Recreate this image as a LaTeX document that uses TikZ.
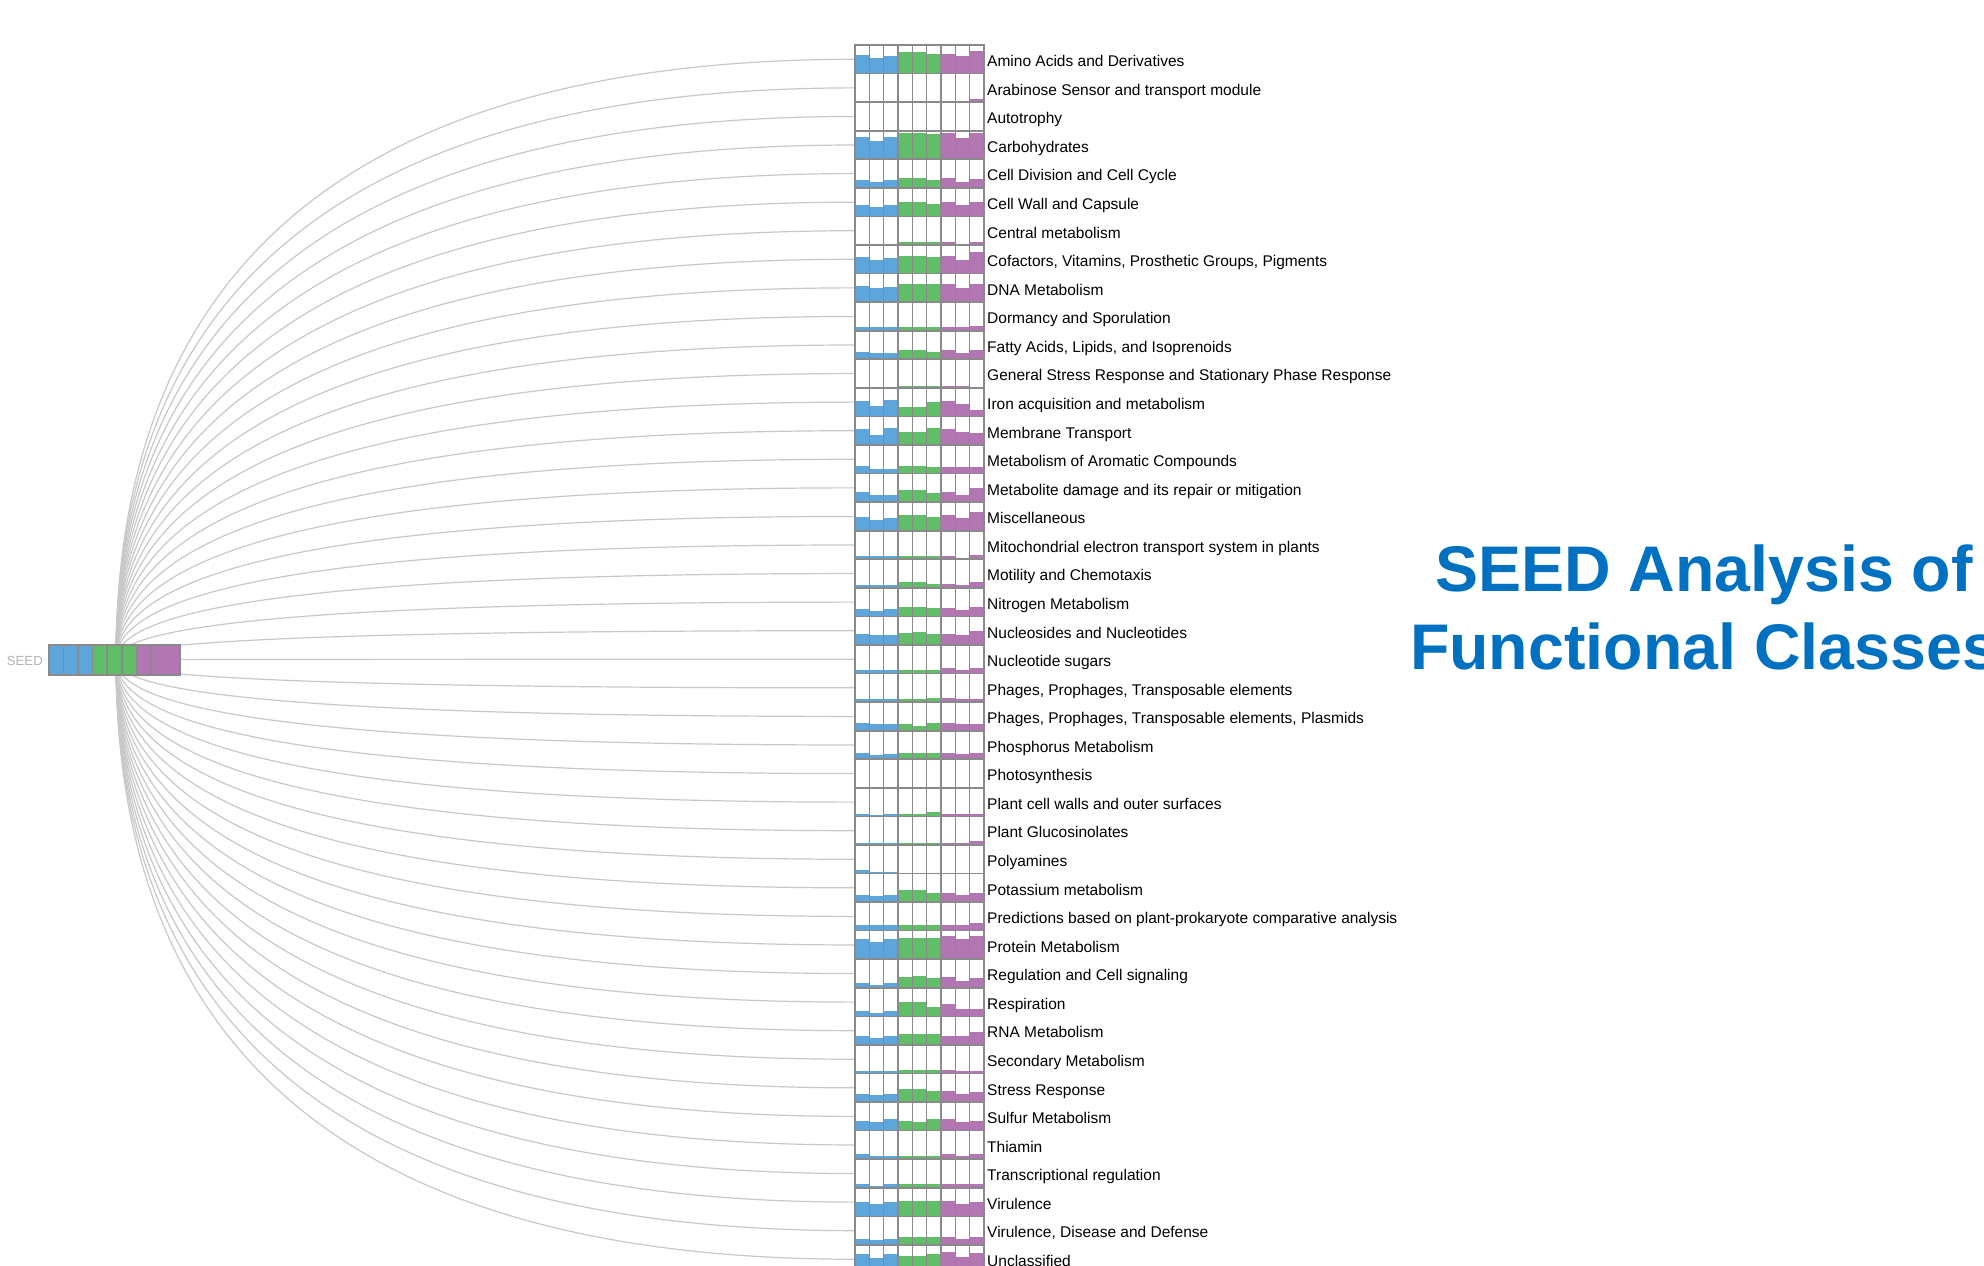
\documentclass[tikz,border=0pt]{standalone}
\usepackage{fontspec}
\setmainfont{Liberation Sans}
\definecolor{cblue}{HTML}{5DA5DA}
\definecolor{cgreen}{HTML}{60BD68}
\definecolor{cpurple}{HTML}{B276B2}
\definecolor{gridgray}{HTML}{8A8A8A}
\definecolor{linkgray}{HTML}{C8C8C8}
\definecolor{titleblue}{HTML}{0070C0}
\definecolor{seedgray}{HTML}{B4B4B4}
\begin{document}
\begin{tikzpicture}[x=1pt,y=-1pt,
  link/.style={draw=linkgray,line width=1.2pt},
  cellbox/.style={draw=gridgray,line width=1.6pt},
  lbl/.style={anchor=base west,inner sep=0pt,font=\fontsize{15.5}{18}\selectfont,text=black},
  seedlbl/.style={anchor=base east,inner sep=0pt,font=\fontsize{13.2}{16}\selectfont,text=seedgray},
  titlestyle/.style={align=center,inner sep=0pt,font=\fontsize{64.5}{78}\selectfont\bfseries,text=titleblue}]
\path[use as bounding box] (0,0) rectangle (1984,1266);
\clip (0,0) rectangle (1984,1266);
\fill[white] (0,0) rectangle (1984,1266);
\coordinate (root) at (116,660);
% rows
\foreach \i/\name/\vals in {
1/{Amino Acids and Derivatives}/{0.64,0.54,0.60,0.74,0.75,0.69,0.70,0.60,0.79},
2/{Arabinose Sensor and transport module}/{0.05,0.05,0.05,0.05,0.05,0.05,0.05,0.04,0.10},
3/{Autotrophy}/{0,0,0,0,0,0,0,0,0},
4/{Carbohydrates}/{0.79,0.64,0.79,0.93,0.93,0.89,0.93,0.76,0.93},
5/{Cell Division and Cell Cycle}/{0.28,0.22,0.28,0.34,0.34,0.28,0.34,0.22,0.31},
6/{Cell Wall and Capsule}/{0.40,0.33,0.40,0.49,0.49,0.44,0.49,0.40,0.49},
7/{Central metabolism}/{0.05,0.05,0.05,0.09,0.09,0.09,0.09,0.05,0.09},
8/{Cofactors, Vitamins, Prosthetic Groups, Pigments}/{0.57,0.48,0.54,0.60,0.62,0.57,0.63,0.48,0.77},
9/{DNA Metabolism}/{0.58,0.48,0.53,0.62,0.62,0.62,0.63,0.48,0.63},
10/{Dormancy and Sporulation}/{0.12,0.12,0.12,0.12,0.12,0.12,0.12,0.12,0.17},
11/{Fatty Acids, Lipids, and Isoprenoids}/{0.27,0.21,0.21,0.33,0.33,0.27,0.33,0.21,0.33},
12/{General Stress Response and Stationary Phase Response}/{0,0,0,0.05,0.05,0.05,0.05,0.05,0.03},
13/{Iron acquisition and metabolism}/{0.53,0.37,0.56,0.32,0.32,0.51,0.53,0.42,0.21},
14/{Membrane Transport}/{0.55,0.35,0.61,0.46,0.46,0.61,0.55,0.46,0.41},
15/{Metabolism of Aromatic Compounds}/{0.25,0.15,0.15,0.28,0.28,0.22,0.22,0.22,0.22},
16/{Metabolite damage and its repair or mitigation}/{0.35,0.26,0.26,0.41,0.41,0.33,0.35,0.26,0.51},
17/{Miscellaneous}/{0.49,0.36,0.43,0.56,0.56,0.49,0.56,0.43,0.67},
18/{Mitochondrial electron transport system in plants}/{0.10,0.10,0.10,0.10,0.10,0.10,0.10,0.06,0.16},
19/{Motility and Chemotaxis}/{0.10,0.10,0.10,0.21,0.21,0.15,0.15,0.10,0.21},
20/{Nitrogen Metabolism}/{0.25,0.19,0.25,0.34,0.34,0.28,0.28,0.22,0.34},
21/{Nucleosides and Nucleotides}/{0.38,0.34,0.34,0.43,0.44,0.38,0.38,0.34,0.48},
22/{Nucleotide sugars}/{0.13,0.13,0.13,0.13,0.13,0.13,0.19,0.13,0.19},
23/{Phages, Prophages, Transposable elements}/{0.10,0.10,0.10,0.10,0.10,0.14,0.13,0.10,0.10},
24/{Phages, Prophages, Transposable elements, Plasmids}/{0.28,0.22,0.22,0.22,0.16,0.28,0.28,0.22,0.22},
25/{Phosphorus Metabolism}/{0.23,0.14,0.19,0.23,0.23,0.23,0.23,0.19,0.23},
26/{Photosynthesis}/{0,0,0,0,0,0,0,0,0},
27/{Plant cell walls and outer surfaces}/{0.09,0.05,0.09,0.07,0.07,0.14,0.09,0.09,0.09},
28/{Plant Glucosinolates}/{0.08,0.08,0.08,0.08,0.08,0.08,0.08,0.08,0.14},
29/{Polyamines}/{0.12,0.06,0.06,0.02,0.02,0.02,0.02,0.02,0.02},
30/{Potassium metabolism}/{0.26,0.21,0.26,0.41,0.41,0.33,0.33,0.26,0.33},
31/{Predictions based on plant-prokaryote comparative analysis}/{0.20,0.20,0.20,0.20,0.20,0.20,0.20,0.20,0.26},
32/{Protein Metabolism}/{0.72,0.60,0.70,0.75,0.75,0.75,0.80,0.70,0.82},
33/{Regulation and Cell signaling}/{0.16,0.10,0.16,0.38,0.43,0.33,0.38,0.25,0.33},
34/{Respiration}/{0.20,0.13,0.20,0.49,0.49,0.33,0.43,0.25,0.25},
35/{RNA Metabolism}/{0.32,0.24,0.32,0.37,0.37,0.37,0.32,0.32,0.44},
36/{Secondary Metabolism}/{0.08,0.08,0.08,0.14,0.14,0.14,0.14,0.08,0.08},
37/{Stress Response}/{0.30,0.25,0.30,0.46,0.46,0.39,0.40,0.30,0.35},
38/{Sulfur Metabolism}/{0.35,0.30,0.40,0.35,0.30,0.40,0.40,0.30,0.35},
39/{Thiamin}/{0.17,0.13,0.13,0.13,0.13,0.13,0.19,0.13,0.19},
40/{Transcriptional regulation}/{0.13,0.08,0.13,0.13,0.13,0.13,0.13,0.13,0.13},
41/{Virulence}/{0.49,0.43,0.49,0.55,0.55,0.55,0.55,0.43,0.49},
42/{Virulence, Disease and Defense}/{0.22,0.17,0.22,0.27,0.27,0.27,0.27,0.22,0.27},
43/{Unclassified}/{0.67,0.53,0.67,0.63,0.63,0.69,0.76,0.58,0.72}}{
  \pgfmathsetmacro\cy{59.3+(\i-1)*28.57}
  \pgfmathsetmacro\ctop{\cy-14.285}
  \pgfmathsetmacro\cbot{\cy+14.285}
  \pgfmathsetmacro\ca{660+2/3*(\cy-660)}
  \coordinate (r\i) at (855,\cy);
  \draw[link] (root) .. controls (116,\ca) and (362.3,\cy) .. (r\i);
  \foreach \v [count=\j] in \vals {
    \edef\cc{\ifcase\j\or cblue\or cblue\or cblue\or cgreen\or cgreen\or cgreen\or cpurple\or cpurple\or cpurple\fi}
    \pgfmathsetmacro\xa{855+(\j-1)*14.333}
    \pgfmathsetmacro\xb{\xa+14.333}
    \pgfmathsetmacro\btop{\cbot-\v*28.57}
    \ifdim\v pt>0pt
      \fill[\cc] (\xa,\btop) rectangle (\xb,\cbot);
    \fi
  }
  \foreach \j in {1,...,9} {
    \pgfmathsetmacro\xa{855+(\j-1)*14.333}
    \pgfmathsetmacro\xb{\xa+14.333}
    \draw[cellbox] (\xa,\ctop) rectangle (\xb,\cbot);
  }
  \node[lbl] (l\i) at (987,\cy+7.3) {\name};
}
% root box
\foreach \j/\cc in {1/cblue,2/cblue,3/cblue,4/cgreen,5/cgreen,6/cgreen,7/cpurple,8/cpurple,9/cpurple}{
  \pgfmathsetmacro\xa{49+(\j-1)*14.555}
  \pgfmathsetmacro\xb{\xa+14.555}
  \fill[\cc] (\xa,645) rectangle (\xb,675);
}
\foreach \j in {1,...,9}{
  \pgfmathsetmacro\xa{49+(\j-1)*14.555}
  \pgfmathsetmacro\xb{\xa+14.555}
  \draw[cellbox] (\xa,645) rectangle (\xb,675);
}
\node[draw=gridgray,line width=1.6pt,minimum width=131pt,minimum height=30pt,inner sep=0pt] (seedbox) at (114.5,660) {};
\node[seedlbl] (seedlabel) at (43,665.8) {SEED};
% title
\node[titlestyle,anchor=base] (title1) at (1704,591) {SEED Analysis of};
\node[titlestyle,anchor=base] (title2) at (1704,669) {Functional Classes};
\end{tikzpicture}
\end{document}
